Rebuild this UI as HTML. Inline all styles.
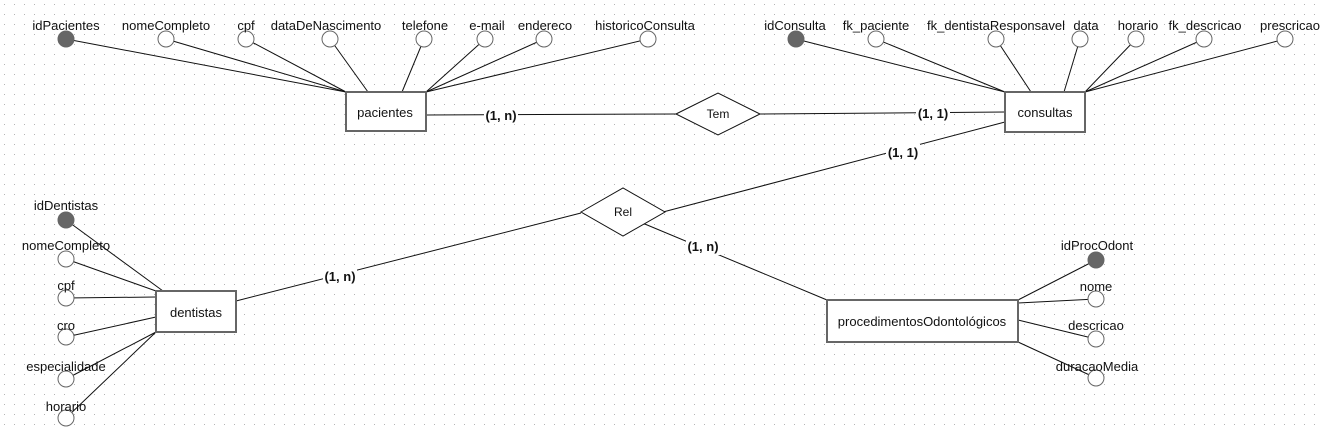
<!DOCTYPE html>
<html><head><meta charset="utf-8"><style>
html,body{margin:0;padding:0;background:#fff;}
svg{display:block;}
text{font-family:"Liberation Sans",sans-serif;font-size:13px;fill:#111;}
.b{font-weight:bold;}
</style></head><body>
<svg width="1322" height="433" viewBox="0 0 1322 433" xmlns="http://www.w3.org/2000/svg">
<defs><pattern id="g" width="10" height="10" patternUnits="userSpaceOnUse"><rect x="4" y="4" width="1" height="1" fill="#b4b4b4"/></pattern></defs>
<rect width="1322" height="433" fill="url(#g)"/>
<g stroke="#111" stroke-width="1" fill="none">
<line x1="66" y1="39" x2="346" y2="92"/><line x1="166" y1="39" x2="346" y2="92"/><line x1="246" y1="39" x2="346" y2="92"/>
<line x1="330" y1="39" x2="368" y2="92"/><line x1="424" y1="39" x2="402" y2="92"/><line x1="485" y1="39" x2="426" y2="92"/>
<line x1="544" y1="39" x2="426" y2="92"/><line x1="648" y1="39" x2="426" y2="92"/>
<line x1="796" y1="39" x2="1005" y2="92"/><line x1="876" y1="39" x2="1005" y2="92"/><line x1="996" y1="39" x2="1031" y2="92"/>
<line x1="1080" y1="39" x2="1064" y2="92"/><line x1="1136" y1="39" x2="1085" y2="92"/><line x1="1204" y1="39" x2="1085" y2="92"/>
<line x1="1285" y1="39" x2="1085" y2="92"/>
<line x1="66" y1="220" x2="163" y2="291"/><line x1="66" y1="259" x2="156" y2="291"/><line x1="66" y1="298" x2="156" y2="297"/>
<line x1="66" y1="337" x2="156" y2="317"/><line x1="66" y1="379" x2="156" y2="332"/><line x1="66" y1="418" x2="156" y2="332"/>
<line x1="1018" y1="300" x2="1096" y2="260"/><line x1="1018" y1="303" x2="1096" y2="299"/>
<line x1="1018" y1="320" x2="1096" y2="339"/><line x1="1018" y1="342" x2="1096" y2="378"/>
<line x1="426" y1="115" x2="676" y2="114"/><line x1="760" y1="114" x2="1005" y2="112"/>
<line x1="1005" y1="122" x2="663" y2="212"/><line x1="581" y1="213" x2="236" y2="301"/>
<line x1="640" y1="222" x2="827" y2="300"/>
</g>
<g fill="#fff" stroke="#666" stroke-width="1">
<circle cx="66" cy="39" r="8" fill="#666"/><circle cx="166" cy="39" r="8"/><circle cx="246" cy="39" r="8"/><circle cx="330" cy="39" r="8"/>
<circle cx="424" cy="39" r="8"/><circle cx="485" cy="39" r="8"/><circle cx="544" cy="39" r="8"/><circle cx="648" cy="39" r="8"/>
<circle cx="796" cy="39" r="8" fill="#666"/><circle cx="876" cy="39" r="8"/><circle cx="996" cy="39" r="8"/><circle cx="1080" cy="39" r="8"/>
<circle cx="1136" cy="39" r="8"/><circle cx="1204" cy="39" r="8"/><circle cx="1285" cy="39" r="8"/>
<circle cx="66" cy="220" r="8" fill="#666"/><circle cx="66" cy="259" r="8"/><circle cx="66" cy="298" r="8"/>
<circle cx="66" cy="337" r="8"/><circle cx="66" cy="379" r="8"/><circle cx="66" cy="418" r="8"/>
<circle cx="1096" cy="260" r="8" fill="#666"/><circle cx="1096" cy="299" r="8"/><circle cx="1096" cy="339" r="8"/><circle cx="1096" cy="378" r="8"/>
</g>
<g fill="#fff" stroke="#666" stroke-width="2">
<rect x="346" y="92" width="80" height="39"/>
<rect x="1005" y="92" width="80" height="40"/>
<rect x="156" y="291" width="80" height="41"/>
<rect x="827" y="300" width="191" height="42"/>
</g>
<g fill="#fff" stroke="#111" stroke-width="1">
<polygon points="676,114 718,93 760,114 718,135"/>
<polygon points="581,212 623,188 665,212 623,236"/>
</g>
<g text-anchor="middle">
<text x="385" y="117">pacientes</text><text x="1045" y="117">consultas</text>
<text x="196" y="317">dentistas</text><text x="922" y="326">procedimentosOdontológicos</text>
<text x="718" y="118" style="font-size:12px">Tem</text><text x="623" y="216" style="font-size:12px">Rel</text>
<text x="66" y="30">idPacientes</text><text x="166" y="30">nomeCompleto</text><text x="246" y="30">cpf</text>
<text x="326" y="30">dataDeNascimento</text><text x="425" y="30">telefone</text><text x="487" y="30">e-mail</text>
<text x="545" y="30">endereco</text><text x="645" y="30">historicoConsulta</text>
<text x="795" y="30">idConsulta</text><text x="876" y="30">fk_paciente</text><text x="996" y="30">fk_dentistaResponsavel</text>
<text x="1086" y="30">data</text><text x="1138" y="30">horario</text><text x="1205" y="30">fk_descricao</text><text x="1290" y="30">prescricao</text>
<text x="66" y="210">idDentistas</text><text x="66" y="250">nomeCompleto</text><text x="66" y="290">cpf</text>
<text x="66" y="330">cro</text><text x="66" y="371">especialidade</text><text x="66" y="411">horario</text>
<text x="1097" y="250">idProcOdont</text><text x="1096" y="291">nome</text><text x="1096" y="330">descricao</text><text x="1097" y="371">duracaoMedia</text>
</g>
<g text-anchor="middle">
<rect x="484" y="107" width="34" height="16" fill="#fff"/><text class="b" x="501" y="120">(1, n)</text>
<rect x="916" y="105" width="34" height="16" fill="#fff"/><text class="b" x="933" y="118">(1, 1)</text>
<rect x="886" y="144" width="34" height="16" fill="#fff"/><text class="b" x="903" y="157">(1, 1)</text>
<rect x="323" y="269" width="34" height="16" fill="#fff"/><text class="b" x="340" y="281">(1, n)</text>
<rect x="686" y="239" width="34" height="16" fill="#fff"/><text class="b" x="703" y="251">(1, n)</text>
</g>
</svg>
</body></html>
